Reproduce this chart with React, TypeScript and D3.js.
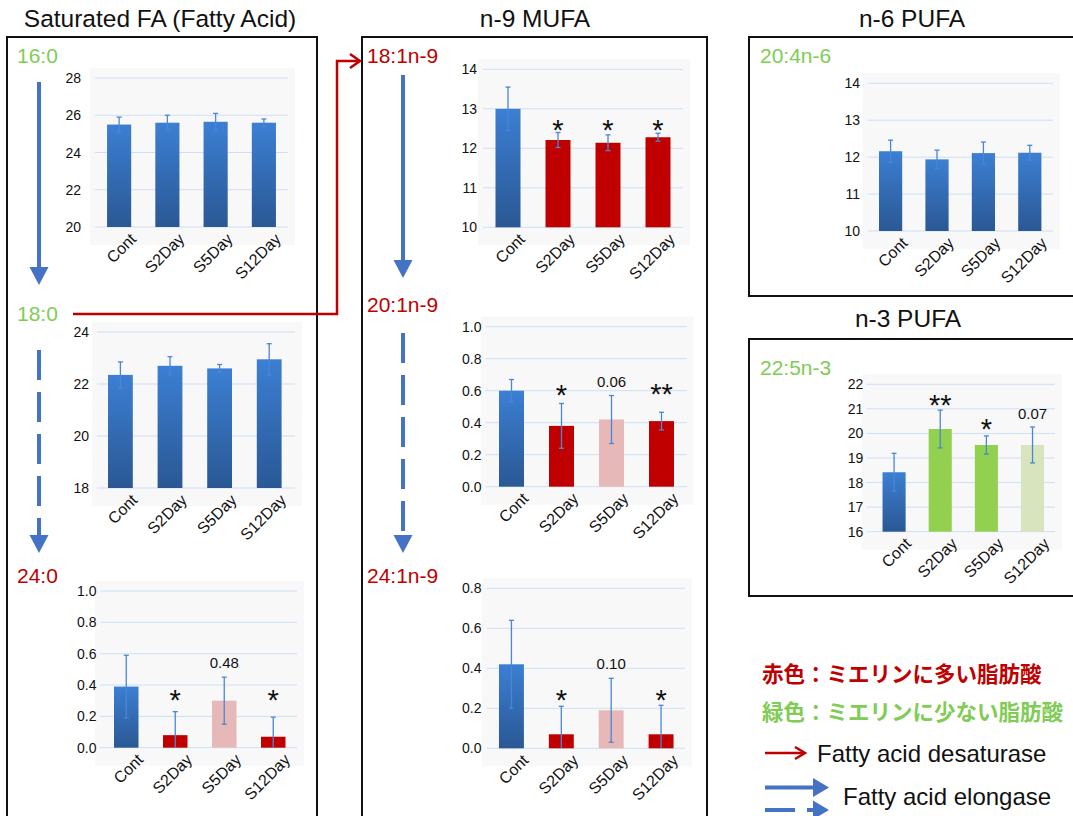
import React from "react";
import * as d3 from "d3";

// ---------- data ----------
const categories = ["Cont", "S2Day", "S5Day", "S12Day"];

// Saturated
const fa160Mean = [25.5, 25.6, 25.65, 25.6];
const fa160Err = [0.4, 0.4, 0.45, 0.2];
const fa160Kind = ["blue", "blue", "blue", "blue"];
const fa160Mark = ["", "", "", ""];
const fa160MarkLevel = [0, 0, 0, 0];

const fa180Mean = [22.35, 22.7, 22.6, 22.95];
const fa180Err = [0.5, 0.35, 0.15, 0.6];
const fa180Kind = ["blue", "blue", "blue", "blue"];
const fa180Mark = ["", "", "", ""];
const fa180MarkLevel = [0, 0, 0, 0];

const fa240Mean = [0.39, 0.08, 0.3, 0.07];
const fa240Err = [0.2, 0.15, 0.15, 0.125];
const fa240Kind = ["blue", "red", "pink", "red"];
const fa240Mark = ["", "*", "0.48", "*"];
const fa240MarkLevel = [0, 0.35, 0.54, 0.35];

// n-9 MUFA
const fa181Mean = [13.0, 12.21, 12.14, 12.28];
const fa181Err = [0.55, 0.19, 0.2, 0.1];
const fa181Kind = ["blue", "red", "red", "red"];
const fa181Mark = ["", "*", "*", "*"];
const fa181MarkLevel = [0, 12.64, 12.64, 12.64];

const fa201Mean = [0.6, 0.38, 0.42, 0.41];
const fa201Err = [0.07, 0.14, 0.15, 0.055];
const fa201Kind = ["blue", "red", "pink", "red"];
const fa201Mark = ["", "*", "0.06", "**"];
const fa201MarkLevel = [0, 0.615, 0.656, 0.62];

const fa241Mean = [0.42, 0.07, 0.19, 0.07];
const fa241Err = [0.22, 0.14, 0.16, 0.145];
const fa241Kind = ["blue", "red", "pink", "red"];
const fa241Mark = ["", "*", "0.10", "*"];
const fa241MarkLevel = [0, 0.275, 0.425, 0.275];

// n-6 PUFA
const fa204Mean = [12.16, 11.94, 12.11, 12.12];
const fa204Err = [0.3, 0.25, 0.3, 0.2];
const fa204Kind = ["blue", "blue", "blue", "blue"];
const fa204Mark = ["", "", "", ""];
const fa204MarkLevel = [0, 0, 0, 0];

// n-3 PUFA
const fa225Mean = [18.42, 20.18, 19.53, 19.53];
const fa225Err = [0.77, 0.77, 0.37, 0.73];
const fa225Kind = ["blue", "green", "green", "lightgreen"];
const fa225Mark = ["", "**", "*", "0.07"];
const fa225MarkLevel = [0, 21.44, 20.45, 20.82];

// ---------- styles ----------
const FONT = "'Liberation Sans', Arial, Helvetica, sans-serif";
const CJK = "'Noto Sans CJK JP', 'Noto Sans CJK SC', sans-serif";
const RED = "#c00000";
const GREEN_TXT = "#80cc55";
const BLUE_ARROW = "#4472c4";
const kindFill: Record<string, string> = {
  blue: "url(#blueGrad)",
  red: "#c00000",
  pink: "#e6b9b8",
  green: "#92d050",
  lightgreen: "#d7e4bd",
};

type ChartProps = {
  mean: number[];
  err: number[];
  kind: string[];
  mark: string[];
  markLevel: number[];
  domain: [number, number];
  step: number;
  fmt: string;
  gx0: number;
  gx1: number;
  bx0: number;
  bx1: number;
  yTop: number;
  yBottom: number;
  labelRight: number;
};

function BarChart(p: ChartProps) {
  const x = d3.scaleBand<string>().domain(categories).range([p.bx0, p.bx1]).paddingInner(0.5).paddingOuter(0.25);
  const y = d3.scaleLinear().domain(p.domain).range([p.yBottom, p.yTop]);
  const ticks = d3.range(p.domain[0], p.domain[1] + p.step / 2, p.step);
  const f = d3.format(p.fmt);
  const bw = x.bandwidth();
  return (
    <g>
      <rect x={p.gx0 - 5} y={p.yTop - 10} width={p.gx1 - p.gx0 + 12} height={p.yBottom - p.yTop + 28} fill="#f8f8f9" />
      {ticks.map((t, i) => (
        <g key={"t" + i}>
          <line x1={p.gx0} x2={p.gx1} y1={y(t)} y2={y(t)} stroke="#cddff4" strokeWidth={1} />
          <text x={p.labelRight} y={y(t) + 5} textAnchor="end" fontSize={14} fontFamily={FONT} fill="#111">
            {f(t)}
          </text>
        </g>
      ))}
      {categories.map((c, i) => {
        const cx = (x(c) as number) + bw / 2;
        const top = y(p.mean[i]);
        const eTop = y(p.mean[i] + p.err[i]);
        const eBot = y(Math.max(p.domain[0], p.mean[i] - p.err[i]));
        return (
          <g key={c}>
            <rect x={x(c)} y={top} width={bw} height={p.yBottom - top} fill={kindFill[p.kind[i]]} />
            <line x1={cx} x2={cx} y1={eTop} y2={eBot} stroke="#4a86d6" strokeWidth={1.3} />
            <line x1={cx - 2.5} x2={cx + 2.5} y1={eTop} y2={eTop} stroke="#4a86d6" strokeWidth={1.3} />
            {p.mean[i] - p.err[i] > p.domain[0] && (
              <line x1={cx - 2.5} x2={cx + 2.5} y1={eBot} y2={eBot} stroke="#4a86d6" strokeWidth={1.3} />
            )}
            {p.mark[i] !== "" && (
              p.mark[i].startsWith("*") ? (
                <text x={cx} y={y(p.markLevel[i]) + 0.58 * 29} textAnchor="middle" fontSize={29} fontFamily={FONT} fill="#111">
                  {p.mark[i]}
                </text>
              ) : (
                <text x={cx} y={y(p.markLevel[i]) + 0.36 * 15} textAnchor="middle" fontSize={15} fontFamily={FONT} fill="#111">
                  {p.mark[i]}
                </text>
              )
            )}
            <text
              transform={`translate(${cx + 18},${p.yBottom + 13}) rotate(-45)`}
              textAnchor="end"
              fontSize={16}
              fontFamily={FONT}
              fill="#111"
            >
              {c}
            </text>
          </g>
        );
      })}
    </g>
  );
}

function Arrow({ x, y1, y2, dashed }: { x: number; y1: number; y2: number; dashed?: boolean }) {
  const head = 18;
  return (
    <g>
      <line x1={x} x2={x} y1={y1} y2={y2 - head + 1} stroke={BLUE_ARROW} strokeWidth={4} strokeDasharray={dashed ? "30 12" : undefined} />
      <path d={`M${x - 9.5},${y2 - head} L${x + 9.5},${y2 - head} L${x},${y2} Z`} fill={BLUE_ARROW} />
    </g>
  );
}

export default function App() {
  return (
    <svg width={1073} height={816} style={{ position: "absolute", left: 0, top: 0 }}>
      <defs>
        <linearGradient id="blueGrad" x1="0" y1="0" x2="0" y2="1">
          <stop offset="0" stopColor="#3c7fd3" />
          <stop offset="1" stopColor="#2a5894" />
        </linearGradient>
      </defs>
      <rect width={1073} height={816} fill="#fff" />

      {/* titles */}
      <text x={160} y={27} textAnchor="middle" fontSize={24.5} fontFamily={FONT} fill="#111">Saturated FA (Fatty Acid)</text>
      <text x={535} y={27} textAnchor="middle" fontSize={24.5} fontFamily={FONT} fill="#111">n-9 MUFA</text>
      <text x={912} y={27} textAnchor="middle" fontSize={24.5} fontFamily={FONT} fill="#111">n-6 PUFA</text>
      <text x={908} y={327} textAnchor="middle" fontSize={24.5} fontFamily={FONT} fill="#111">n-3 PUFA</text>

      {/* boxes */}
      <rect x={7} y={37} width={310} height={800} fill="none" stroke="#111" strokeWidth={2} />
      <rect x={362} y={37} width={345} height={800} fill="none" stroke="#111" strokeWidth={2} />
      <rect x={749} y={37} width={340} height={259} fill="none" stroke="#111" strokeWidth={2} />
      <rect x={749} y={339} width={340} height={257} fill="none" stroke="#111" strokeWidth={2} />

      {/* group labels */}
      <text x={17} y={63} fontSize={21} fontFamily={FONT} fill={GREEN_TXT}>16:0</text>
      <text x={17} y={321} fontSize={21} fontFamily={FONT} fill={GREEN_TXT}>18:0</text>
      <text x={17} y={583} fontSize={21} fontFamily={FONT} fill={RED}>24:0</text>
      <text x={367} y={63} fontSize={21} fontFamily={FONT} fill={RED}>18:1n-9</text>
      <text x={367} y={312} fontSize={21} fontFamily={FONT} fill={RED}>20:1n-9</text>
      <text x={367} y={583} fontSize={21} fontFamily={FONT} fill={RED}>24:1n-9</text>
      <text x={760} y={63} fontSize={21} fontFamily={FONT} fill={GREEN_TXT}>20:4n-6</text>
      <text x={760} y={375} fontSize={21} fontFamily={FONT} fill={GREEN_TXT}>22:5n-3</text>

      {/* arrows */}
      <Arrow x={39} y1={82} y2={285} />
      <Arrow x={39} y1={350} y2={553} dashed />
      <Arrow x={403} y1={75} y2={278} />
      <Arrow x={403} y1={333} y2={553} dashed />
      <polyline points="73,314 337,314 337,61 359,61" fill="none" stroke={RED} strokeWidth={2.5} />
      <polyline points="350,54 360,61 350,68" fill="none" stroke={RED} strokeWidth={2.5} />

      {/* charts */}
      <BarChart mean={fa160Mean} err={fa160Err} kind={fa160Kind} mark={fa160Mark} markLevel={fa160MarkLevel}
        domain={[20, 28]} step={2} fmt="d" gx0={95} gx1={288} bx0={95} bx1={288} yTop={78} yBottom={227} labelRight={81} />
      <BarChart mean={fa180Mean} err={fa180Err} kind={fa180Kind} mark={fa180Mark} markLevel={fa180MarkLevel}
        domain={[18, 24]} step={2} fmt="d" gx0={97} gx1={295} bx0={95.6} bx1={294} yTop={332} yBottom={488} labelRight={89} />
      <BarChart mean={fa240Mean} err={fa240Err} kind={fa240Kind} mark={fa240Mark} markLevel={fa240MarkLevel}
        domain={[0, 1]} step={0.2} fmt=".1f" gx0={100} gx1={297} bx0={101.75} bx1={297.75} yTop={591} yBottom={747.7} labelRight={96.5} />
      <BarChart mean={fa181Mean} err={fa181Err} kind={fa181Kind} mark={fa181Mark} markLevel={fa181MarkLevel}
        domain={[10, 14]} step={1} fmt="d" gx0={483} gx1={683} bx0={483} bx1={683} yTop={69.3} yBottom={227.3} labelRight={477} />
      <BarChart mean={fa201Mean} err={fa201Err} kind={fa201Kind} mark={fa201Mark} markLevel={fa201MarkLevel}
        domain={[0, 1]} step={0.2} fmt=".1f" gx0={485.7} gx1={686.7} bx0={486.5} bx1={686.5} yTop={326.7} yBottom={486.7} labelRight={481.5} />
      <BarChart mean={fa241Mean} err={fa241Err} kind={fa241Kind} mark={fa241Mark} markLevel={fa241MarkLevel}
        domain={[0, 0.8]} step={0.2} fmt=".1f" gx0={486.7} gx1={685} bx0={486.5} bx1={686} yTop={588.3} yBottom={748.3} labelRight={481.5} />
      <BarChart mean={fa204Mean} err={fa204Err} kind={fa204Kind} mark={fa204Mark} markLevel={fa204MarkLevel}
        domain={[10, 14]} step={1} fmt="d" gx0={867.7} gx1={1053} bx0={867.4} bx1={1053} yTop={83.3} yBottom={231} labelRight={860} />
      <BarChart mean={fa225Mean} err={fa225Err} kind={fa225Kind} mark={fa225Mark} markLevel={fa225MarkLevel}
        domain={[16, 22]} step={1} fmt="d" gx0={866.7} gx1={1055} bx0={871} bx1={1055.6} yTop={384.3} yBottom={531.7} labelRight={863.3} />

      {/* legend */}
      <text x={762} y={682} fontSize={21.5} fontWeight="bold" fontFamily={CJK} fill={RED}>赤色：ミエリンに多い脂肪酸</text>
      <text x={762} y={720} fontSize={21.5} fontWeight="bold" fontFamily={CJK} fill={GREEN_TXT}>緑色：ミエリンに少ない脂肪酸</text>
      <line x1={765} x2={804} y1={753} y2={753} stroke={RED} strokeWidth={2.5} />
      <polyline points="795,747 805,753 795,759" fill="none" stroke={RED} strokeWidth={2.5} />
      <text x={817} y={762} fontSize={24} fontFamily={FONT} fill="#111">Fatty acid desaturase</text>
      <line x1={765} x2={815} y1={787.5} y2={787.5} stroke={BLUE_ARROW} strokeWidth={4} />
      <path d="M813,778 L829,787.5 L813,797 Z" fill={BLUE_ARROW} />
      <line x1={765} x2={795} y1={810} y2={810} stroke={BLUE_ARROW} strokeWidth={4} />
      <line x1={807} x2={815} y1={810} y2={810} stroke={BLUE_ARROW} strokeWidth={4} />
      <path d="M813,800.5 L829,810 L813,819.5 Z" fill={BLUE_ARROW} />
      <text x={843} y={805} fontSize={24} fontFamily={FONT} fill="#111">Fatty acid elongase</text>
    </svg>
  );
}
